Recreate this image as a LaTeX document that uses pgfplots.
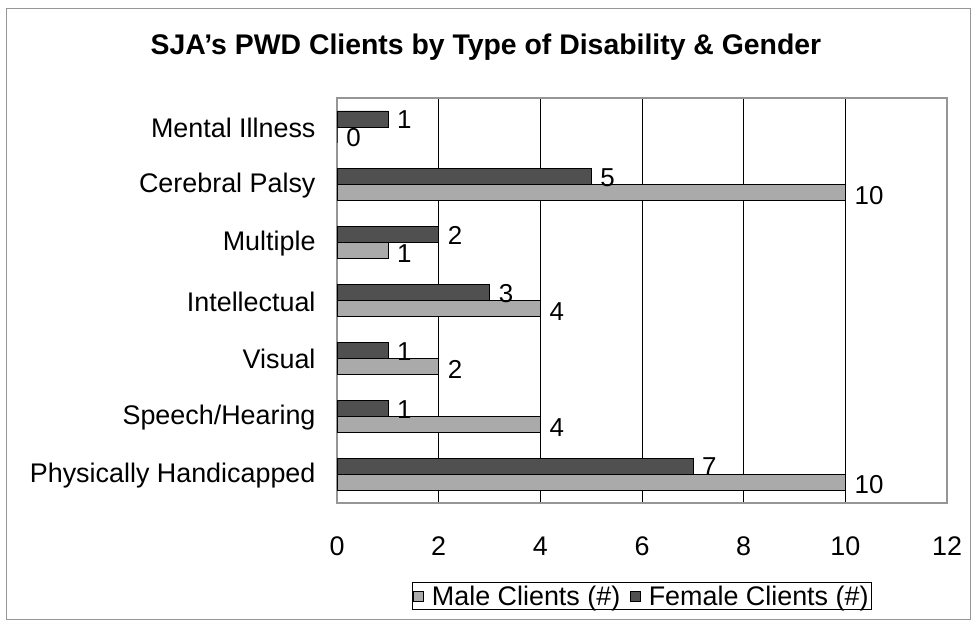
\documentclass[border=0pt]{standalone}
\usepackage{pgfplots}
\pgfplotsset{compat=1.18}
\usepackage{fontspec}
\setmainfont{Liberation Sans}
\definecolor{femc}{RGB}{80,80,80}
\definecolor{malec}{RGB}{170,170,170}
\definecolor{framec}{RGB}{150,150,150}
\begin{document}
\begin{tikzpicture}[x=1bp,y=1bp]
\path[draw=framec, line width=0.8bp] (6,1) rectangle (970,612);
\path (0,0) rectangle (972,620);
\node[font=\bfseries\fontsize{28.5}{32}\selectfont] at (486,573) {SJA's PWD Clients by Type of Disability \& Gender};
\begin{axis}[
  at={(337bp,117bp)}, anchor=south west,
  scale only axis, width=610bp, height=405bp,
  xbar, xmin=0, xmax=12, ymin=-0.5, ymax=6.5,
  xtick={0,2,...,12},
  ytick={0,...,6},
  yticklabels={Physically Handicapped,Speech/Hearing,Visual,Intellectual,Multiple,Cerebral Palsy,Mental Illness},
  /pgf/number format/assume math mode=true,
  tick label style={font=\fontsize{27}{30}\selectfont},
  xticklabel style={yshift=-30bp},
  yticklabel style={xshift=-18bp, yshift=-1bp},
  major tick length=0pt,
  xmajorgrids, major grid style={black, line width=0.5bp},
  axis line style={framec, line width=2.5bp},
  bar width=16bp,
  nodes near coords,
  nodes near coords style={font=\fontsize{26}{29}\selectfont, anchor=west, inner sep=0bp, xshift=9bp, yshift=-1bp},
  legend style={at={(0.5,-0.23)}, anchor=center, legend columns=2, draw=black, line width=0.5bp,
    font=\fontsize{27}{30}\selectfont, inner sep=1bp,
    /tikz/every odd column/.append style={column sep=6bp},
    /tikz/every even column/.append style={column sep=8bp}},
  legend image code/.code={\draw[#1, line width=0.5bp] (2bp,-5bp) rectangle (12bp,5bp);},
  reverse legend,
]
\addplot[draw=black, fill=femc, line width=0.6bp, bar shift=8bp] coordinates {(7,0) (1,1) (1,2) (3,3) (2,4) (5,5) (1,6)};
\addlegendentry{Female Clients (\#)}
\addplot[draw=black, fill=malec, line width=0.6bp, bar shift=-8bp, nodes near coords style={yshift=-2bp}] coordinates {(10,0) (4,1) (2,2) (4,3) (1,4) (10,5) (0,6)};
\addlegendentry{Male Clients (\#)}
\end{axis}
\end{tikzpicture}
\end{document}
